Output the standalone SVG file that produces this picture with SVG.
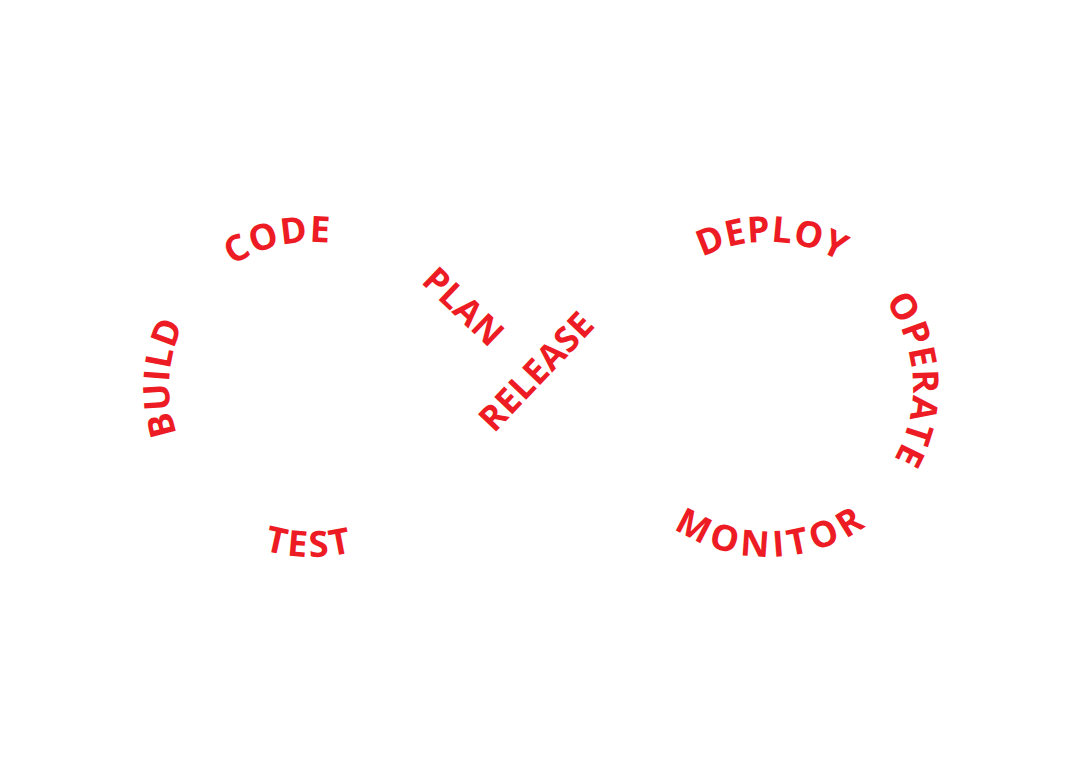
<svg xmlns="http://www.w3.org/2000/svg" xmlns:xlink="http://www.w3.org/1999/xlink" width="1080" height="761" viewBox="0 0 1080 761">
<style>
.lbl{font-family:"Open Sans","Noto Sans","Liberation Sans",sans-serif;font-weight:700;font-size:36px;fill:#ED1C24;text-anchor:middle}
.sm{font-size:35px}
</style>
<defs>
<path id="p-code" d="M182.8,321.2 A145,145 0 0 1 399.3,271.2"/>
<path id="p-build" d="M213.6,490.7 A143,143 0 0 1 226.9,272.0"/>
<path id="p-test" d="M179.9,494 A170,170 0 0 0 440.3,498.5"/>
<path id="p-plan" d="M397.4,260.3 L512.6,370.7"/>
<path id="p-release" d="M476.2,452.3 L614.2,307.3"/>
<path id="p-deploy" d="M659.2,290.5 A145,145 0 0 1 881.4,296.9"/>
<path id="p-operate" d="M855.3,271.2 A145,145 0 0 1 866.9,493"/>
<path id="p-monitor" d="M640.7,499.1 A170,170 0 0 0 901,493.3"/>
</defs>
<rect width="1080" height="761" fill="#ffffff"/>
<g id="code"><text class="lbl" letter-spacing="1"><textPath xlink:href="#p-code" href="#p-code" startOffset="50%">CODE</textPath></text></g>
<g id="build"><text class="lbl" letter-spacing="0.5"><textPath xlink:href="#p-build" href="#p-build" startOffset="50%">BUILD</textPath></text></g>
<g id="test"><text class="lbl" letter-spacing="2.5"><textPath xlink:href="#p-test" href="#p-test" startOffset="50%">TEST</textPath></text></g>
<g id="plan"><text class="lbl sm" letter-spacing="0.5"><textPath xlink:href="#p-plan" href="#p-plan" startOffset="50%">PLAN</textPath></text></g>
<g id="release"><text class="lbl sm" letter-spacing="0.5"><textPath xlink:href="#p-release" href="#p-release" startOffset="50%">RELEASE</textPath></text></g>
<g id="deploy"><text class="lbl" letter-spacing="0.5"><textPath xlink:href="#p-deploy" href="#p-deploy" startOffset="50%">DEPLOY</textPath></text></g>
<g id="operate"><text class="lbl" letter-spacing="1"><textPath xlink:href="#p-operate" href="#p-operate" startOffset="50%">OPERATE</textPath></text></g>
<g id="monitor"><text class="lbl" letter-spacing="4.5"><textPath xlink:href="#p-monitor" href="#p-monitor" startOffset="50%">MONITOR</textPath></text></g>
</svg>
